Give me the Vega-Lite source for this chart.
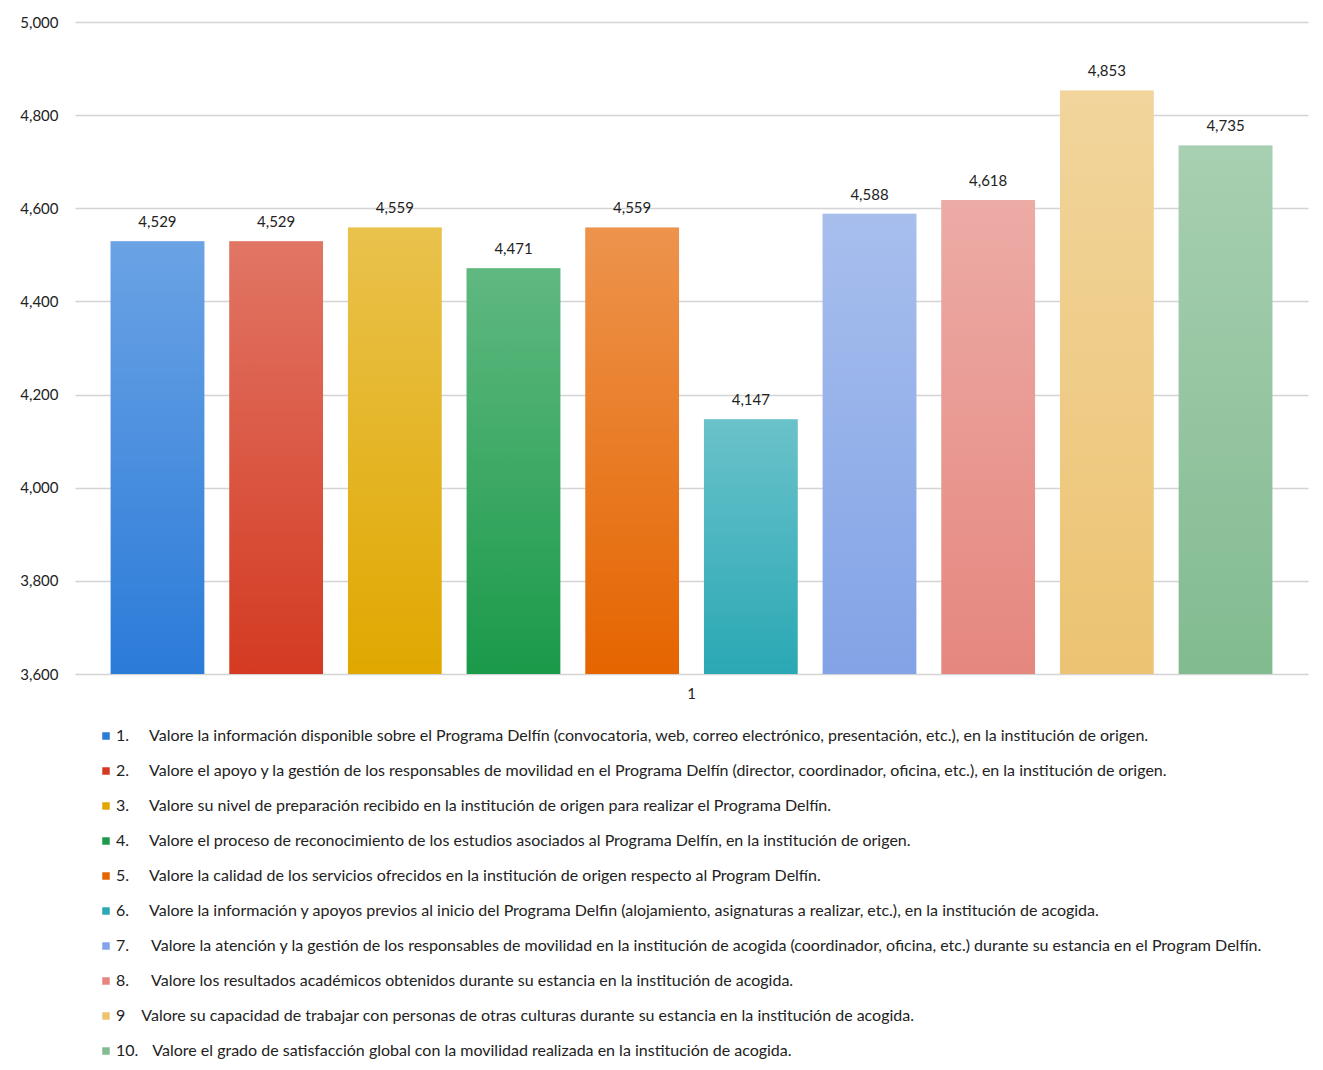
{
  "$schema": "https://vega.github.io/schema/vega-lite/v6.json",
  "width": 1233,
  "height": 652,
  "autosize": {"type": "none"},
  "padding": {"left": 75, "top": 22, "right": 15, "bottom": 396},
  "config": {
    "locale": {
      "number": {"decimal": ",", "thousands": ".", "grouping": [3], "currency": ["", " €"]}
    },
    "font": "Lato",
    "view": {"stroke": null}
  },
  "data": {
    "values": [
      {"grupo": "1", "n": 1, "valor": 4.529, "etiqueta": "1.\u2003\u2002Valore la información disponible sobre el Programa Delfín (convocatoria, web, correo electrónico, presentación, etc.), en la institución de origen."},
      {"grupo": "1", "n": 2, "valor": 4.529, "etiqueta": "2.\u2003\u2002Valore el apoyo y la gestión de los responsables de movilidad en el Programa Delfín (director, coordinador, oficina, etc.), en la institución de origen."},
      {"grupo": "1", "n": 3, "valor": 4.559, "etiqueta": "3.\u2003\u2002Valore su nivel de preparación recibido en la institución de origen para realizar el Programa Delfín."},
      {"grupo": "1", "n": 4, "valor": 4.471, "etiqueta": "4.\u2003\u2002Valore el proceso de reconocimiento de los estudios asociados al Programa Delfín, en la institución de origen."},
      {"grupo": "1", "n": 5, "valor": 4.559, "etiqueta": "5.\u2003\u2002Valore la calidad de los servicios ofrecidos en la institución de origen respecto al Program Delfín."},
      {"grupo": "1", "n": 6, "valor": 4.147, "etiqueta": "6.\u2003\u2002Valore la información y apoyos previos al inicio del Programa Delfin (alojamiento, asignaturas a realizar, etc.), en la institución de acogida."},
      {"grupo": "1", "n": 7, "valor": 4.588, "etiqueta": "7.\u2003\u2002\u2009Valore la atención y la gestión de los responsables de movilidad en la institución de acogida (coordinador, oficina, etc.) durante su estancia en el Program Delfín."},
      {"grupo": "1", "n": 8, "valor": 4.618, "etiqueta": "8.\u2003\u2002\u2009Valore los resultados académicos obtenidos durante su estancia en la institución de acogida."},
      {"grupo": "1", "n": 9, "valor": 4.853, "etiqueta": "9\u2003\u2009\u2009Valore su capacidad de trabajar con personas de otras culturas durante su estancia en la institución de acogida."},
      {"grupo": "1", "n": 10, "valor": 4.735, "etiqueta": "10.\u2003\u2009Valore el grado de satisfacción global con la movilidad realizada en la institución de acogida."}
    ]
  },
  "encoding": {
    "x": {
      "field": "grupo",
      "type": "nominal",
      "scale": {"paddingInner": 0, "paddingOuter": 0},
      "axis": {
        "title": null,
        "labelAngle": 0,
        "ticks": false,
        "domain": false,
        "labelFontSize": 15,
        "labelColor": "#222222",
        "labelPadding": 12
      }
    },
    "xOffset": {
      "field": "n",
      "type": "ordinal",
      "scale": {"paddingInner": 0.21, "paddingOuter": 0.3}
    },
    "y": {
      "field": "valor",
      "type": "quantitative",
      "scale": {"domain": [3.6, 5.0], "zero": false, "nice": false},
      "axis": {
        "title": null,
        "values": [3.6, 3.8, 4.0, 4.2, 4.4, 4.6, 4.8, 5.0],
        "format": ".3f",
        "domain": false,
        "ticks": false,
        "labelPadding": 17,
        "labelFontSize": 15,
        "labelColor": "#222222",
        "gridColor": "#d4d4d4",
        "gridWidth": 1.4
      }
    },
    "y2": {"datum": 3.6}
  },
  "layer": [
    {
      "mark": {"type": "bar"},
      "encoding": {
        "color": {
          "field": "etiqueta",
          "type": "nominal",
          "sort": {"field": "n"},
          "scale": {
            "range": ["#2b7bd9", "#d43a22", "#e0a800", "#1b9a4a", "#e56500", "#2aa8b4", "#82a3e6", "#e5877f", "#ecc372", "#82bb90"]
          },
          "legend": {
            "title": null,
            "orient": "none",
            "legendX": 23,
            "legendY": 706,
            "direction": "vertical",
            "columns": 1,
            "symbolType": "square",
            "symbolSize": 56,
            "symbolStrokeWidth": 0,
            "labelFontSize": 16,
            "labelColor": "#222222",
            "labelLimit": 0,
            "labelOffset": 2,
            "rowPadding": 19
          }
        }
      }
    },
    {
      "mark": {
        "type": "bar",
        "color": {
          "gradient": "linear",
          "x1": 0, "y1": 0, "x2": 0, "y2": 1,
          "stops": [
            {"offset": 0, "color": "rgba(255,255,255,0.3)"},
            {"offset": 1, "color": "rgba(255,255,255,0)"}
          ]
        }
      }
    },
    {
      "mark": {"type": "text", "baseline": "bottom", "dy": -11, "fontSize": 15, "color": "#222222"},
      "encoding": {
        "text": {"field": "valor", "type": "quantitative", "format": ".3f"},
        "y2": null
      }
    }
  ]
}
